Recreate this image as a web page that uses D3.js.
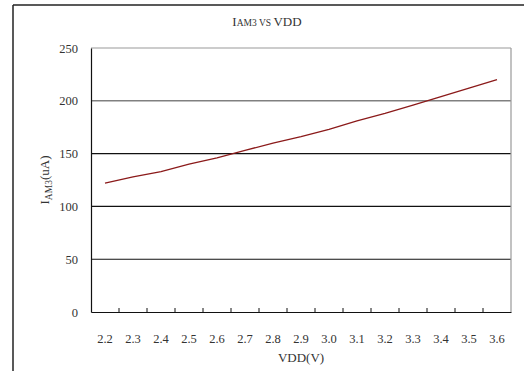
<!DOCTYPE html>
<html><head><meta charset="utf-8">
<script src="https://cdn.jsdelivr.net/npm/d3@7"></script>
<style>body{margin:0;background:#fff}svg{display:block}</style>
</head><body>
<script>
const categories = ["2.2","2.3","2.4","2.5","2.6","2.7","2.8","2.9","3.0","3.1","3.2","3.3","3.4","3.5","3.6"];
const iam3 = [122,128,133,140,146,153,160,166,173,181,188,196,204,212,220];
const yTicks = [0,50,100,150,200,250];

const W=524,H=371;
const m={left:91,top:48,right:511,bottom:312};
const svg=d3.select("body").append("svg").attr("width",W).attr("height",H);
const font="'Liberation Serif','Times New Roman',serif";

// outer frame
svg.append("line").attr("x1",13).attr("x2",13).attr("y1",5).attr("y2",H).attr("stroke","#222").attr("stroke-width",1.5);
svg.append("line").attr("x1",13).attr("x2",W).attr("y1",5).attr("y2",5).attr("stroke","#222").attr("stroke-width",1.5);

const x=d3.scaleBand().domain(categories).range([m.left,m.right]);
const y=d3.scaleLinear().domain([0,250]).range([m.bottom,m.top]);

// gridlines
svg.append("g").selectAll("line").data(yTicks.filter(d=>d>0&&d<250)).join("line")
  .attr("x1",m.left).attr("x2",m.right).attr("y1",d=>y(d)).attr("y2",d=>y(d))
  .attr("stroke",d=>d===200?"#808080":"#111").attr("stroke-width",d=>d===200?1.6:1.1);

// plot border top/right
svg.append("line").attr("x1",m.left).attr("x2",m.right).attr("y1",y(250)).attr("y2",y(250)).attr("stroke","#999").attr("stroke-width",1.2);
svg.append("line").attr("x1",m.right).attr("x2",m.right).attr("y1",m.top).attr("y2",m.bottom).attr("stroke","#999").attr("stroke-width",1.2);

// y axis
const ya=svg.append("g").attr("transform",`translate(${m.left},0)`)
  .call(d3.axisLeft(y).tickValues(yTicks).tickSize(0).tickPadding(13));
ya.select(".domain").attr("stroke","#111").attr("stroke-width",1.2);
ya.selectAll("text").attr("font-family",font).attr("font-size",12.5).attr("fill","#333");

// x axis
const xa=svg.append("g").attr("transform",`translate(0,${m.bottom})`)
  .call(d3.axisBottom(x).tickSize(0).tickPadding(22));
xa.select(".domain").attr("stroke","#111").attr("stroke-width",1.2);
xa.selectAll("text").attr("font-family",font).attr("font-size",12.5).attr("fill","#333");
// boundary ticks pointing inward
svg.append("g").selectAll("line").data(categories.slice(1)).join("line")
  .attr("x1",d=>x(d)).attr("x2",d=>x(d)).attr("y1",m.bottom).attr("y2",m.bottom-4)
  .attr("stroke","#111").attr("stroke-width",1);

// data line
const line=d3.line().x((d,i)=>x(categories[i])+x.bandwidth()/2).y(d=>y(d));
svg.append("path").datum(iam3).attr("d",line).attr("fill","none").attr("stroke","#8b1a1a").attr("stroke-width",1.3);

// title
const t=svg.append("text").attr("x",267).attr("y",26).attr("text-anchor","middle")
  .attr("font-family",font).attr("fill","#333").attr("font-size",13);
t.append("tspan").text("I");
t.append("tspan").attr("font-size",9.5).text("AM3 VS ");
t.append("tspan").text("VDD");

// y label
const yl=svg.append("text").attr("transform","translate(49,180) rotate(-90)").attr("text-anchor","middle")
  .attr("font-family",font).attr("fill","#333").attr("font-size",13);
yl.append("tspan").text("I");
yl.append("tspan").attr("font-size",9.5).attr("dy",3).text("AM3");
yl.append("tspan").attr("dy",-3).text("(uA)");

// x label
svg.append("text").attr("x",301).attr("y",362).attr("text-anchor","middle")
  .attr("font-family",font).attr("fill","#333").attr("font-size",13).text("VDD(V)");
</script>
</body></html>
